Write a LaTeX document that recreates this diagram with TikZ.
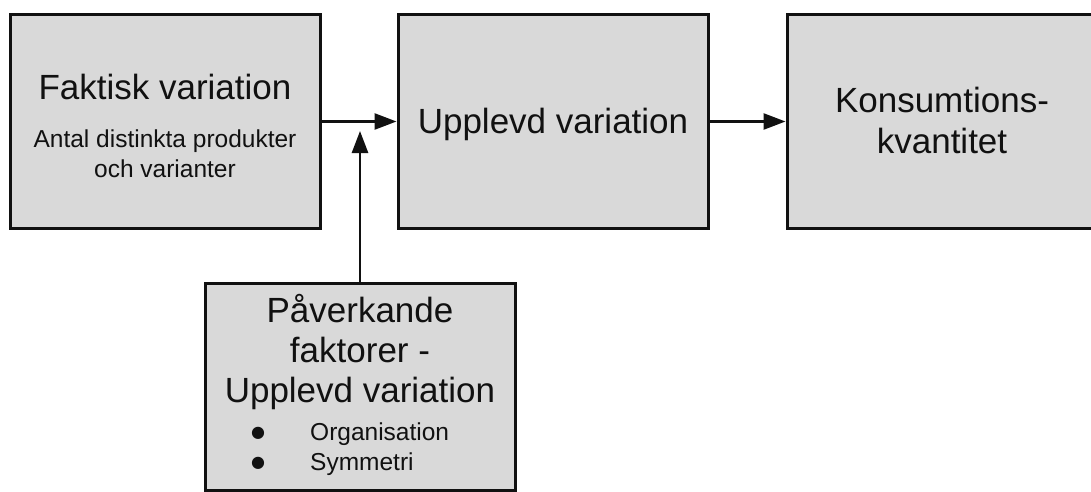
\documentclass[tikz,border=0pt]{standalone}
\usepackage{fontspec}
\setmainfont{Liberation Sans}
\newfontfamily\symfont{DejaVu Sans}
\usepackage{xcolor}
\usetikzlibrary{arrows.meta,positioning}
\definecolor{boxgray}{HTML}{D9D9D9}
\definecolor{inkx}{HTML}{111111}
\tikzset{
  ar/.style={-{Triangle[length=22pt,width=16pt]},line width=2.6pt,inkx},
  box/.style={draw=inkx,line width=3pt,fill=boxgray,minimum width=310pt,minimum height=213pt,inner sep=0pt},
  bigtxt/.style={font=\fontsize{35}{40}\selectfont,align=center,inner sep=0pt,text=inkx},
  smalltxt/.style={font=\fontsize{24.5}{30}\selectfont,inner sep=0pt,text=inkx}
}
\newcommand{\bul}{\makebox[59pt][l]{\raisebox{3pt}{\symfont\fontsize{16}{16}\selectfont ●}}}

\begin{document}
\begin{tikzpicture}[x=1pt,y=-1pt]
\clip (0,0) rectangle (1091,492);
\fill[white] (0,0) rectangle (1091,492);
% boxes
\node[box] (fakt) at (165,121.5) {};
\node[box] (uppl) at (553,121.5) {};
\node[box] (kons) at (942,121.5) {};
\node[box,minimum height=207pt] (pav) at (360,386.5) {};
% texts (base = last line)
\node[bigtxt,anchor=base] (faktT) at (165,100) {Faktisk variation};
\node[smalltxt,align=center,anchor=base] (faktS) at (165,177) {Antal distinkta produkter\\och varianter};
\node[bigtxt,anchor=base] (upplT) at (553,133) {Upplevd variation};
\node[bigtxt,anchor=base] (konsT) at (942,153) {Konsumtions-\\kvantitet};
\node[bigtxt,anchor=base] (pavT) at (360,402) {Påverkande\\faktorer -\\Upplevd variation};
\node[smalltxt,align=left,anchor=base west] (pavL) at (251,470)
  {\bul Organisation\\\bul Symmetri};
% connectors
\coordinate (join) at (360,131);
\draw[ar] (fakt.east) -- (uppl.west);
\draw[ar] (uppl.east) -- (kons.west);
\draw[ar] (pav.north) -- (join);
\end{tikzpicture}
\end{document}
